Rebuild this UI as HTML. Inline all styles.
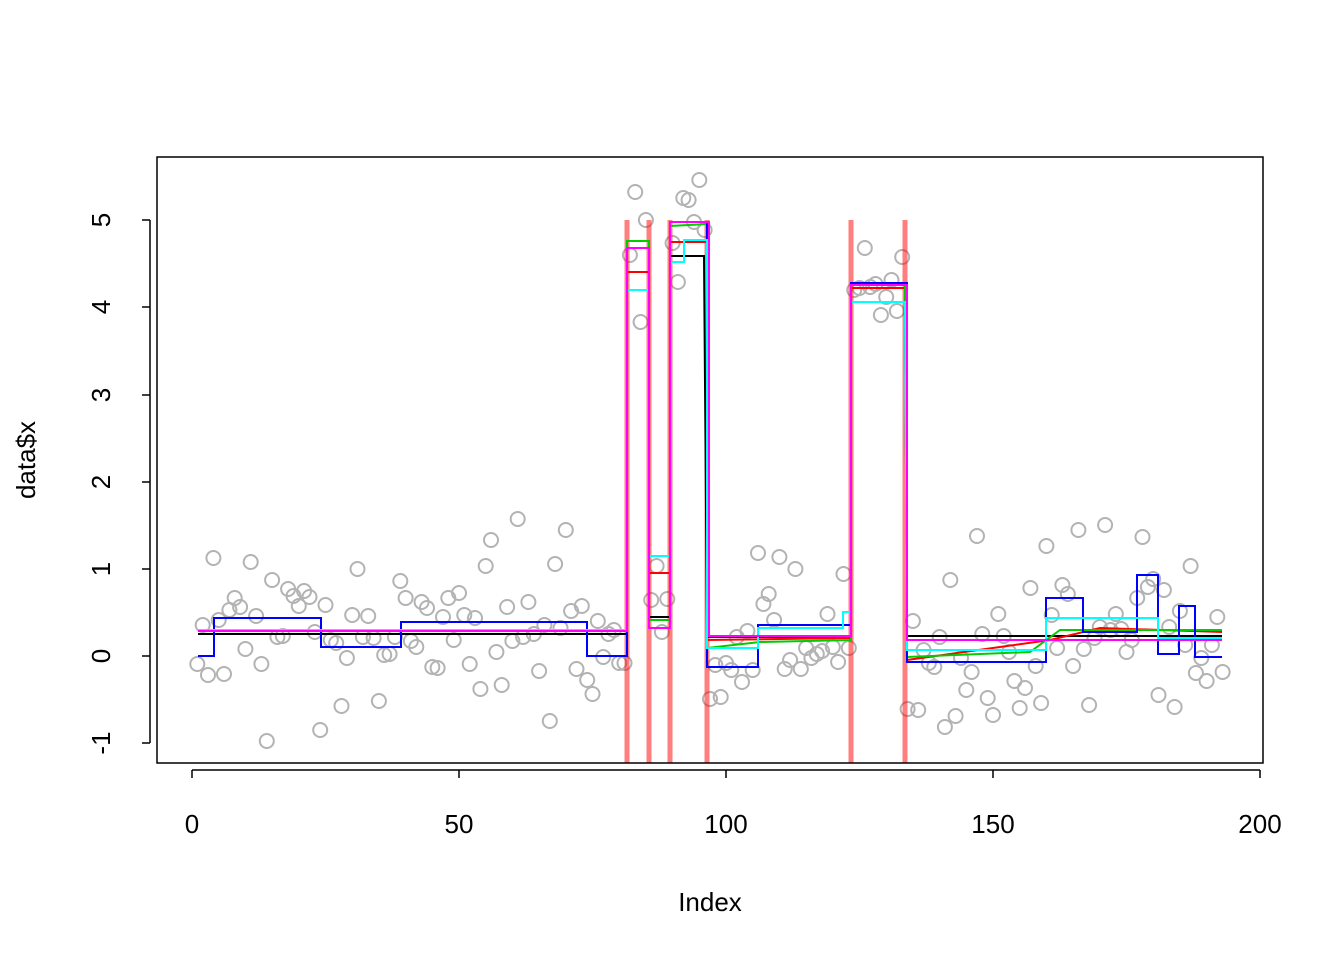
<!DOCTYPE html>
<html><head><meta charset="utf-8"><style>
html,body{margin:0;padding:0;background:#fff}
svg{display:block}
text{font-family:"Liberation Sans",Arial,sans-serif;font-size:26px;fill:#000}
</style></head><body>
<svg id="s" width="1344" height="960" xmlns="http://www.w3.org/2000/svg">
<g id="pts" fill="none" stroke="#b3b3b3" stroke-width="2"></g>
<g stroke="#ff0000" stroke-opacity="0.5" stroke-width="5">
<line x1="627" y1="220" x2="627" y2="763"/><line x1="649" y1="220" x2="649" y2="763"/>
<line x1="670" y1="220" x2="670" y2="763"/><line x1="707" y1="220" x2="707" y2="763"/>
<line x1="851" y1="220" x2="851" y2="763"/><line x1="905" y1="220" x2="905" y2="763"/>
</g>
<g fill="none" stroke-width="2">
<polyline stroke="#000" points="198,634 627,634 627,248 649,248 649,617 670,617 670,256 704,256 707,637 851,637 851,283 905,283 907,636 1222,636"/>
<polyline stroke="#ff0000" points="198,631 627,631 627,272 649,272 649,573 670,573 670,242 707,242 707,640 851,638 851,288 905,288 907,660 1050,640 1100,628 1222,632"/>
<polyline stroke="#00cc00" points="198,631 627,631 627,241 649,241 649,620 670,620 670,226 707,224 707,648 760,642 851,640 851,284 905,284 907,657 1030,652 1060,630 1222,630"/>
<polyline stroke="#0000ff" points="198,656 214,656 214,618 321,618 321,647 401,647 401,622 587,622 587,656 627,656 627,248 649,248 649,628 670,628 670,222 707,222 707,667 758,667 758,625 851,625 851,283 907,283 907,662 1046,662 1046,598 1083,598 1083,632 1137,632 1137,575 1158,575 1158,654 1179,654 1179,606 1195,606 1195,657 1222,657"/>
<polyline stroke="#00ffff" points="198,630 627,630 627,290 649,290 649,556 670,556 670,262 684,262 684,240 707,240 707,648 758,648 758,628 843,628 843,612 851,612 851,302 905,302 907,650 1046,650 1046,618 1158,618 1158,638 1222,638"/>
<polyline stroke="#ff00ff" points="198,631 627,631 627,248 649,248 649,628 670,628 670,222 709,222 709,636 851,636 851,285 907,285 907,640 1222,640"/>
</g>
<rect x="157" y="157" width="1106" height="606" fill="none" stroke="#000" stroke-width="1.5"/>
<g stroke="#000" stroke-width="1.5">
<line x1="192" y1="763" x2="1260" y2="763" transform="translate(0,0)" stroke-opacity="0"/>
<line x1="192" y1="763" x2="1260" y2="763" style="display:none"/>
<line x1="192" y1="770" x2="1260" y2="770"/>
<line x1="192" y1="770" x2="192" y2="778"/><line x1="459" y1="770" x2="459" y2="778"/>
<line x1="726" y1="770" x2="726" y2="778"/><line x1="993" y1="770" x2="993" y2="778"/>
<line x1="1260" y1="770" x2="1260" y2="778"/>
<line x1="150" y1="220" x2="150" y2="743"/>
<line x1="142" y1="743" x2="150" y2="743"/><line x1="142" y1="656" x2="150" y2="656"/>
<line x1="142" y1="569" x2="150" y2="569"/><line x1="142" y1="482" x2="150" y2="482"/>
<line x1="142" y1="395" x2="150" y2="395"/><line x1="142" y1="307" x2="150" y2="307"/>
<line x1="142" y1="220" x2="150" y2="220"/>
</g>
<g text-anchor="middle">
<text x="192" y="833">0</text><text x="459" y="833">50</text><text x="726" y="833">100</text>
<text x="993" y="833">150</text><text x="1260" y="833">200</text>
<text x="710" y="911">Index</text>
<text transform="translate(110,743) rotate(-90)">-1</text>
<text transform="translate(110,656) rotate(-90)">0</text>
<text transform="translate(110,569) rotate(-90)">1</text>
<text transform="translate(110,482) rotate(-90)">2</text>
<text transform="translate(110,395) rotate(-90)">3</text>
<text transform="translate(110,307) rotate(-90)">4</text>
<text transform="translate(110,220) rotate(-90)">5</text>
<text transform="translate(35,460) rotate(-90)">data$x</text>
</g>
</svg>
<script>
var p=[664,625,675,558,620,674,610,598,607,649,562,616,664,741,580,637,636,589,596,606,591,597,632,730,605,640,643,706,658,615,569,637,616,638,701,655,654,637,581,598,641,647,602,608,667,668,617,598,640,593,615,664,618,689,566,540,652,685,607,641,519,637,602,634,671,625,721,564,628,530,611,669,606,680,694,621,657,634,630,663,663,255,192,322,220,600,566,632,599,243,282,198,200,222,180,230,699,665,697,663,670,637,682,631,670,553,604,594,620,557,669,660,569,669,648,658,654,651,614,647,662,574,648,290,288,248,287,284,315,297,280,311,257,709,621,710,650,663,667,637,727,580,716,658,690,672,536,634,698,715,614,636,652,681,708,688,588,666,703,546,615,648,585,594,666,530,649,705,638,627,525,630,614,629,652,640,598,537,587,579,695,590,627,707,611,645,566,673,658,681,645,617,672];
var g=document.getElementById('pts'),h='';
for(var i=0;i<p.length;i++){var x=192+(i+1)*5.34;h+='<circle cx="'+x.toFixed(1)+'" cy="'+p[i]+'" r="7"/>';}
g.innerHTML=h;
</script>
</body></html>
